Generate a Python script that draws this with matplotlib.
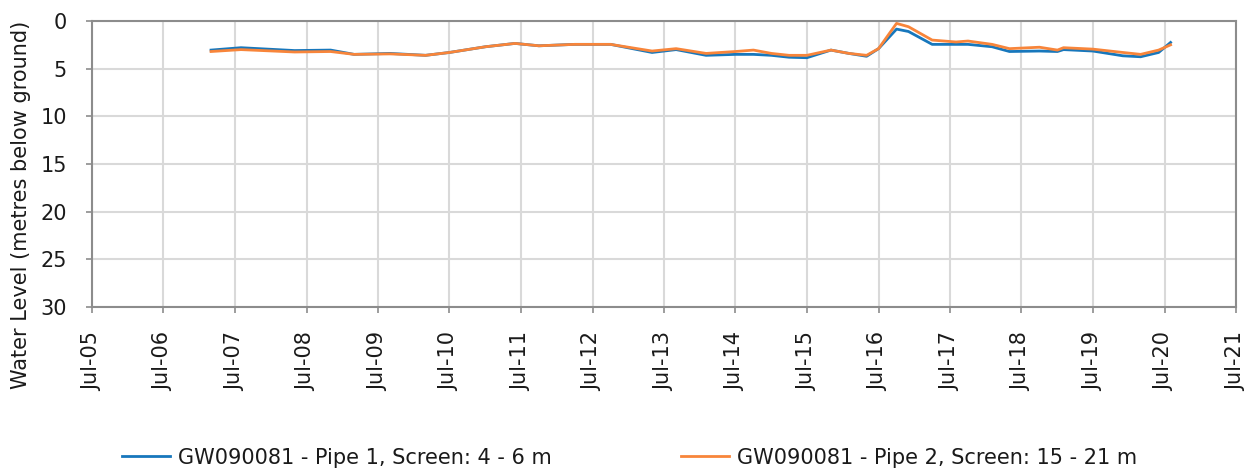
import numpy as np
import pandas as pd
import matplotlib
matplotlib.use("Agg")
import matplotlib.pyplot as plt
import matplotlib.dates as mdates

plt.rcParams['font.family'] = ['DejaVu Sans']

# sampled readings (month, depth in m below ground)
pipe1_dates = ["2007-03", "2007-08", "2008-05", "2008-11", "2009-03", "2009-09",
               "2010-03", "2010-07", "2011-01", "2011-06", "2011-10", "2012-04",
               "2012-10", "2013-05", "2013-09", "2014-02", "2014-07", "2014-10",
               "2015-01", "2015-04", "2015-07", "2015-11", "2016-02", "2016-05",
               "2016-07", "2016-10", "2016-12", "2017-04", "2017-08", "2017-10",
               "2018-02", "2018-05", "2018-10", "2019-01", "2019-02", "2019-07",
               "2019-12", "2020-03", "2020-06", "2020-08"]
pipe1_level = [3.05, 2.8, 3.1, 3.05, 3.5, 3.4,
               3.6, 3.3, 2.7, 2.35, 2.6, 2.45,
               2.45, 3.3, 3.0, 3.6, 3.5, 3.5,
               3.6, 3.8, 3.85, 3.05, 3.4, 3.7,
               2.9, 0.85, 1.1, 2.45, 2.45, 2.45,
               2.7, 3.2, 3.15, 3.2, 3.0, 3.15,
               3.65, 3.75, 3.3, 2.25]

pipe2_dates = ["2007-03", "2007-08", "2008-05", "2008-11", "2009-03", "2009-09",
               "2010-03", "2010-07", "2011-01", "2011-06", "2011-10", "2012-04",
               "2012-10", "2013-05", "2013-09", "2014-02", "2014-07", "2014-10",
               "2015-01", "2015-04", "2015-07", "2015-11", "2016-02", "2016-05",
               "2016-07", "2016-10", "2016-12", "2017-04", "2017-08", "2017-10",
               "2018-02", "2018-05", "2018-10", "2019-01", "2019-02", "2019-07",
               "2019-12", "2020-03", "2020-06", "2020-08"]
pipe2_level = [3.2, 3.0, 3.25, 3.2, 3.5, 3.45,
               3.6, 3.3, 2.7, 2.35, 2.6, 2.45,
               2.45, 3.15, 2.9, 3.4, 3.2, 3.05,
               3.4, 3.6, 3.6, 3.05, 3.4, 3.6,
               2.9, 0.25, 0.6, 2.0, 2.2, 2.1,
               2.45, 2.9, 2.75, 3.05, 2.8, 2.95,
               3.3, 3.5, 3.05, 2.5]

labels = ["GW090081 - Pipe 1, Screen: 4 - 6 m", "GW090081 - Pipe 2, Screen: 15 - 21 m"]

fig = plt.figure(figsize=(12.59, 4.70), dpi=100)
ax = fig.add_axes([0.0731, 0.3468, 0.9086, 0.6085])

ax.plot(pd.to_datetime(pipe1_dates), pipe1_level, color='#1777BC', lw=2, label=labels[0])
ax.plot(pd.to_datetime(pipe2_dates), pipe2_level, color='#F8853A', lw=2, label=labels[1])

ax.set_xlim(pd.Timestamp("2005-07-01"), pd.Timestamp("2021-07-01"))
ax.set_ylim(30, 0)
ax.set_yticks(np.arange(0, 31, 5))
ax.xaxis.set_major_locator(mdates.MonthLocator(bymonth=7))
ax.xaxis.set_major_formatter(mdates.DateFormatter('%b-%y'))
plt.setp(ax.get_xticklabels(), rotation=90)

ax.grid(True, color='#D9D9D9', lw=1.5)
ax.set_axisbelow(True)
for s in ax.spines.values():
    s.set_color('#8C8C8C')
    s.set_linewidth(1.5)
ax.tick_params(colors='#8C8C8C', labelcolor='#1a1a1a', labelsize=15, length=4, width=1.2)
ax.tick_params(axis='y', pad=14)
ax.tick_params(axis='x', pad=14)

fig.text(0.017, 0.565, "Water Level (metres below ground)", rotation=90,
         ha='center', va='center', fontsize=15, color='#1a1a1a')

fig.legend(loc='center', bbox_to_anchor=(0.5, 0.026), ncol=2, frameon=False,
           fontsize=15, handlelength=2.3, columnspacing=6.2, handletextpad=0.4,
           labelcolor='#1a1a1a')

fig.savefig("out.png", dpi=100)
